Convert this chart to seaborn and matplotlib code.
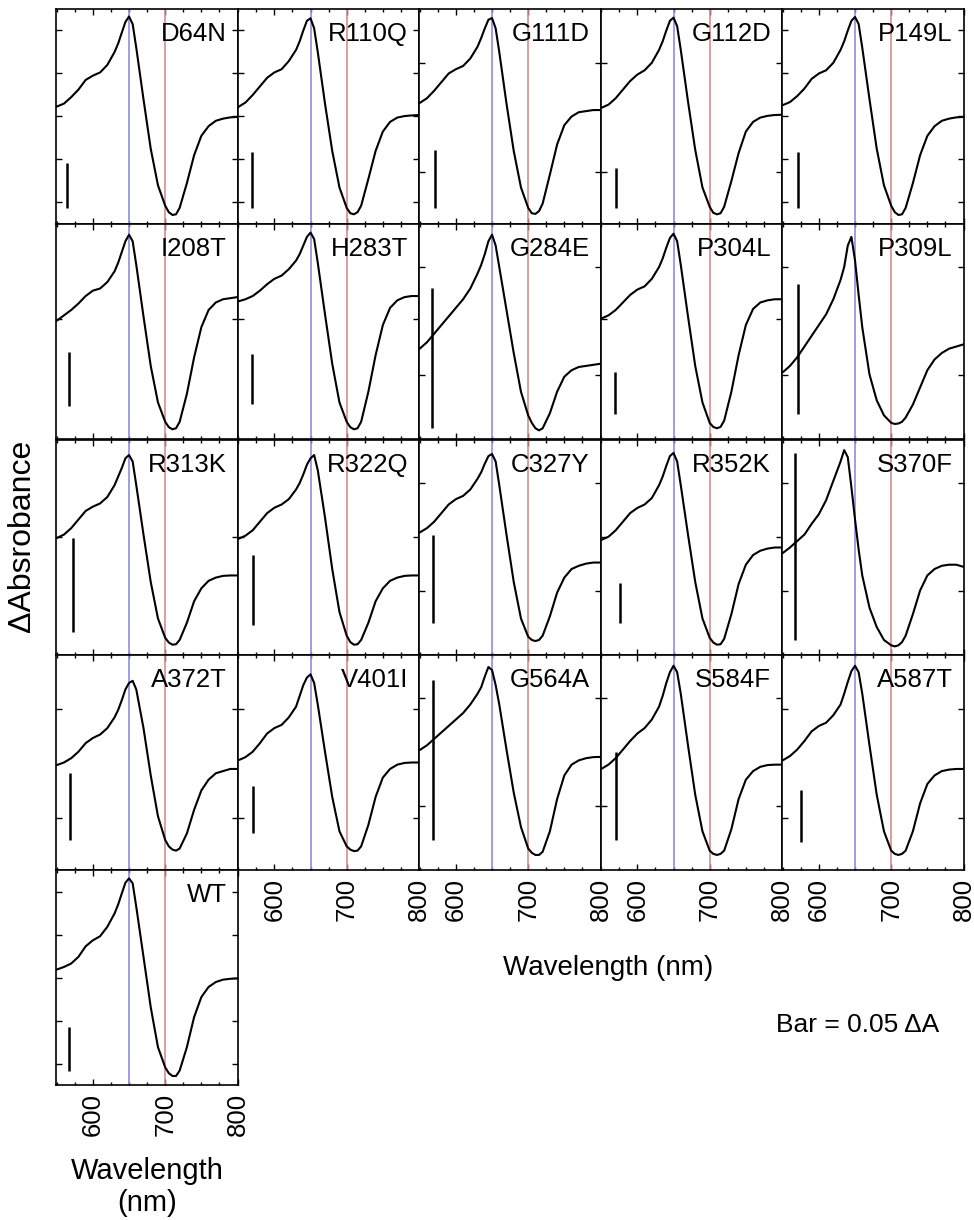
import matplotlib
matplotlib.use("Agg")
import numpy as np
import pandas as pd
import matplotlib.pyplot as plt
import seaborn as sns
from matplotlib.ticker import MultipleLocator, NullFormatter, FixedLocator

# ---------------- data (fraction of each panel's own height) ----------------
wavelength = [550, 560, 570, 580, 590, 600, 610, 620, 630, 635, 640, 645, 650, 655, 660,
              670, 680, 690, 700, 705, 710, 715, 720, 730, 740, 750, 760, 770, 780, 790, 800]

d64n  = [0.546,0.56,0.59,0.625,0.67,0.69,0.705,0.74,0.80,0.84,0.89,0.94,0.965,0.93,0.82,0.58,0.35,0.18,0.085,0.055,0.042,0.045,0.075,0.19,0.32,0.41,0.455,0.48,0.49,0.496,0.498]
r110q = [0.544,0.565,0.60,0.64,0.68,0.705,0.72,0.758,0.81,0.85,0.90,0.945,0.957,0.91,0.80,0.56,0.34,0.17,0.075,0.05,0.045,0.055,0.085,0.21,0.34,0.43,0.475,0.495,0.502,0.505,0.507]
g111d = [0.563,0.585,0.62,0.66,0.70,0.72,0.735,0.77,0.825,0.865,0.91,0.95,0.958,0.91,0.80,0.56,0.34,0.17,0.075,0.05,0.047,0.06,0.095,0.23,0.37,0.46,0.50,0.52,0.525,0.53,0.53]
g112d = [0.54,0.555,0.585,0.625,0.665,0.695,0.715,0.75,0.81,0.85,0.90,0.945,0.96,0.92,0.81,0.57,0.345,0.17,0.08,0.052,0.045,0.05,0.08,0.20,0.33,0.43,0.475,0.495,0.503,0.507,0.508]
p149l = [0.553,0.567,0.595,0.63,0.675,0.70,0.715,0.75,0.81,0.85,0.90,0.945,0.963,0.93,0.82,0.58,0.35,0.18,0.085,0.055,0.042,0.045,0.075,0.19,0.32,0.41,0.455,0.48,0.49,0.496,0.498]

i208t = [0.55,0.575,0.60,0.63,0.665,0.69,0.70,0.73,0.78,0.82,0.87,0.92,0.95,0.92,0.81,0.57,0.34,0.17,0.08,0.055,0.045,0.05,0.08,0.21,0.38,0.52,0.60,0.635,0.65,0.655,0.66]
h283t = [0.64,0.65,0.665,0.69,0.72,0.745,0.76,0.79,0.83,0.86,0.90,0.94,0.96,0.93,0.82,0.58,0.35,0.17,0.08,0.055,0.045,0.05,0.08,0.22,0.39,0.53,0.61,0.645,0.66,0.665,0.665]
g284e = [0.42,0.45,0.49,0.53,0.57,0.61,0.65,0.70,0.77,0.81,0.86,0.92,0.95,0.90,0.80,0.60,0.40,0.22,0.11,0.075,0.05,0.04,0.05,0.12,0.22,0.29,0.32,0.335,0.34,0.345,0.35]
p304l = [0.56,0.575,0.60,0.635,0.67,0.695,0.71,0.745,0.80,0.84,0.89,0.935,0.955,0.92,0.81,0.57,0.34,0.17,0.075,0.056,0.05,0.056,0.085,0.22,0.39,0.53,0.605,0.635,0.645,0.65,0.65]
p309l = [0.31,0.34,0.38,0.43,0.48,0.53,0.58,0.65,0.74,0.80,0.90,0.94,0.83,0.67,0.52,0.30,0.18,0.11,0.075,0.07,0.072,0.08,0.10,0.16,0.24,0.32,0.37,0.40,0.42,0.43,0.44]

r313k = [0.544,0.56,0.59,0.63,0.67,0.69,0.705,0.735,0.79,0.83,0.87,0.915,0.93,0.90,0.79,0.56,0.34,0.17,0.08,0.058,0.048,0.05,0.07,0.15,0.25,0.31,0.345,0.36,0.368,0.37,0.37]
r322q = [0.54,0.555,0.58,0.62,0.66,0.685,0.70,0.725,0.77,0.80,0.84,0.885,0.915,0.93,0.86,0.64,0.40,0.20,0.09,0.06,0.048,0.05,0.07,0.15,0.25,0.31,0.345,0.36,0.368,0.37,0.37]
c327y = [0.57,0.59,0.62,0.66,0.70,0.725,0.74,0.77,0.82,0.85,0.89,0.925,0.935,0.90,0.79,0.56,0.34,0.17,0.085,0.07,0.065,0.07,0.09,0.18,0.29,0.36,0.40,0.415,0.425,0.43,0.43]
r352k = [0.535,0.55,0.58,0.62,0.66,0.684,0.70,0.73,0.79,0.83,0.88,0.925,0.94,0.90,0.79,0.56,0.34,0.17,0.08,0.058,0.048,0.05,0.075,0.19,0.33,0.42,0.465,0.485,0.495,0.50,0.50]
s370f = [0.474,0.50,0.53,0.56,0.61,0.655,0.72,0.81,0.90,0.953,0.92,0.78,0.63,0.49,0.37,0.22,0.13,0.07,0.045,0.04,0.045,0.06,0.09,0.19,0.30,0.37,0.40,0.415,0.42,0.42,0.41]

a372t = [0.488,0.50,0.52,0.55,0.59,0.614,0.63,0.66,0.71,0.745,0.79,0.84,0.87,0.88,0.84,0.66,0.44,0.25,0.14,0.11,0.095,0.09,0.10,0.17,0.28,0.37,0.42,0.45,0.46,0.47,0.47]
v401i = [0.51,0.525,0.55,0.59,0.635,0.66,0.675,0.71,0.76,0.81,0.86,0.895,0.91,0.87,0.77,0.55,0.34,0.18,0.11,0.095,0.088,0.09,0.11,0.21,0.34,0.43,0.47,0.49,0.498,0.50,0.50]
g564a = [0.558,0.58,0.61,0.64,0.67,0.70,0.73,0.77,0.82,0.85,0.90,0.944,0.93,0.86,0.77,0.56,0.36,0.20,0.10,0.08,0.07,0.07,0.085,0.18,0.33,0.44,0.49,0.51,0.52,0.525,0.526]
s584f = [0.47,0.49,0.52,0.56,0.60,0.635,0.66,0.70,0.76,0.81,0.87,0.92,0.95,0.92,0.82,0.58,0.35,0.18,0.09,0.075,0.07,0.075,0.09,0.19,0.33,0.42,0.46,0.48,0.488,0.49,0.49]
a587t = [0.51,0.53,0.56,0.60,0.645,0.67,0.685,0.72,0.77,0.82,0.875,0.925,0.95,0.92,0.82,0.58,0.35,0.18,0.09,0.075,0.07,0.075,0.09,0.18,0.31,0.40,0.44,0.46,0.467,0.47,0.47]

wt    = [0.537,0.549,0.565,0.596,0.645,0.673,0.692,0.736,0.798,0.84,0.891,0.941,0.961,0.938,0.829,0.596,0.362,0.176,0.082,0.055,0.042,0.042,0.067,0.176,0.316,0.409,0.456,0.479,0.49,0.494,0.496]

panel_names = ["D64N", "R110Q", "G111D", "G112D", "P149L",
               "I208T", "H283T", "G284E", "P304L", "P309L",
               "R313K", "R322Q", "C327Y", "R352K", "S370F",
               "A372T", "V401I", "G564A", "S584F", "A587T",
               "WT"]
panel_curves = [d64n, r110q, g111d, g112d, p149l,
                i208t, h283t, g284e, p304l, p309l,
                r313k, r322q, c327y, r352k, s370f,
                a372t, v401i, g564a, s584f, a587t,
                wt]

# scale bar (0.05 dA): wavelength position, bottom, top
bar_x      = [564, 569, 571, 570, 571,  567, 569, 567, 569, 571,  572, 571, 568, 576, 567,  569, 571, 568, 570, 575,  567.5]
bar_bottom = [0.074,0.075,0.074,0.074,0.074, 0.153,0.163,0.05,0.116,0.116, 0.107,0.14,0.15,0.15,0.07, 0.14,0.17,0.14,0.14,0.13, 0.067]
bar_top    = [0.285,0.335,0.344,0.26,0.335, 0.405,0.395,0.70,0.31,0.72, 0.544,0.465,0.56,0.335,0.94, 0.45,0.39,0.884,0.55,0.37, 0.269]

# y tick marks on each panel frame (no labels)
ytick_sets = [[0.1, 0.3, 0.5, 0.7, 0.9], [0.1, 0.3, 0.5, 0.7, 0.9], [0.24, 0.75], [0.24, 0.75], [0.1, 0.3, 0.5, 0.7, 0.9],
              [0.56], [0.56], [0.3, 0.8], [0.56], [0.3, 0.8],
              [0.55], [0.55], [0.3, 0.8], [0.55], [0.3, 0.8],
              [0.24, 0.75], [0.24, 0.75], [0.3, 0.8], [0.3, 0.8], [0.24, 0.75],
              [0.1, 0.3, 0.5, 0.7, 0.9]]

blue_line_nm = 650
red_line_nm = 700

# ---------------- figure ----------------
sns.set_theme(style="ticks")
plt.rcParams['font.family'] = ['Liberation Sans', 'DejaVu Sans']
plt.rcParams['axes.linewidth'] = 1.2
plt.rcParams['text.color'] = 'black'
plt.rcParams['xtick.color'] = 'black'
plt.rcParams['ytick.color'] = 'black'
plt.rcParams['xtick.labelcolor'] = 'black'

W, H = 974, 1220
fig = plt.figure(figsize=(W / 100, H / 100), dpi=100)
col_left = [56, 237.5, 419, 600.5, 782]
row_top = [9, 224, 440, 655, 870]
pw, ph = 181.5, 215

for i, (name, curve) in enumerate(zip(panel_names, panel_curves)):
    r, c = divmod(i, 5)
    ax = fig.add_axes([col_left[c] / W, 1 - (row_top[r] + ph) / H, pw / W, ph / H])
    ax.axvline(blue_line_nm, color="#8c8ce6", lw=1.2, zorder=1)
    ax.axvline(red_line_nm, color="#d98c8c", lw=1.2, zorder=1)
    df = pd.DataFrame({"nm": wavelength, "dA": curve})
    sns.lineplot(data=df, x="nm", y="dA", ax=ax, color="black", lw=1.5,
                 sort=False, estimator=None, zorder=3)
    ax.plot([bar_x[i], bar_x[i]], [bar_bottom[i], bar_top[i]], color="black",
            lw=1.8, solid_capstyle="butt", zorder=3)
    ax.set_xlim(549, 800)
    ax.set_ylim(0, 1)
    ax.set_xlabel("")
    ax.set_ylabel("")
    ax.xaxis.set_major_locator(FixedLocator([600, 700, 800]))
    ax.xaxis.set_minor_locator(MultipleLocator(25))
    ax.yaxis.set_major_locator(FixedLocator(ytick_sets[i]))
    ax.tick_params(which="both", direction="in", top=True, right=True, width=1,
                   colors="black")
    ax.tick_params(which="major", length=4)
    ax.tick_params(which="minor", length=2.5)
    ax.yaxis.set_major_formatter(NullFormatter())
    show_x = (r == 4) or (r == 3 and c > 0)
    if show_x:
        ax.set_xticks([600, 700, 800])
        ax.set_xticklabels(["600", "700", "800"], rotation=90, fontsize=18.5,
                           color="black")
        ax.tick_params(axis="x", which="major", pad=6)
    else:
        ax.xaxis.set_major_formatter(NullFormatter())
    for s in ax.spines.values():
        s.set_color("black")
        s.set_linewidth(1.2)
    ax.text(0.94, 0.885, name, transform=ax.transAxes, ha="right", va="center",
            fontsize=18.5, color="black", zorder=4)

fig.text(608 / W, 1 - 968 / H, "Wavelength (nm)", ha="center", va="center",
         fontsize=20, color="black")
fig.text(147 / W, 1 - 1187 / H, "Wavelength\n(nm)", ha="center", va="center",
         fontsize=21, linespacing=1.15, color="black")
fig.text(22 / W, 1 - 536 / H, "ΔAbsrobance", ha="center", va="center",
         rotation=90, fontsize=23, color="black")
fig.text(858 / W, 1 - 1025 / H, "Bar = 0.05 ΔA", ha="center", va="center",
         fontsize=19, color="black")

fig.savefig("out.png", dpi=100)
